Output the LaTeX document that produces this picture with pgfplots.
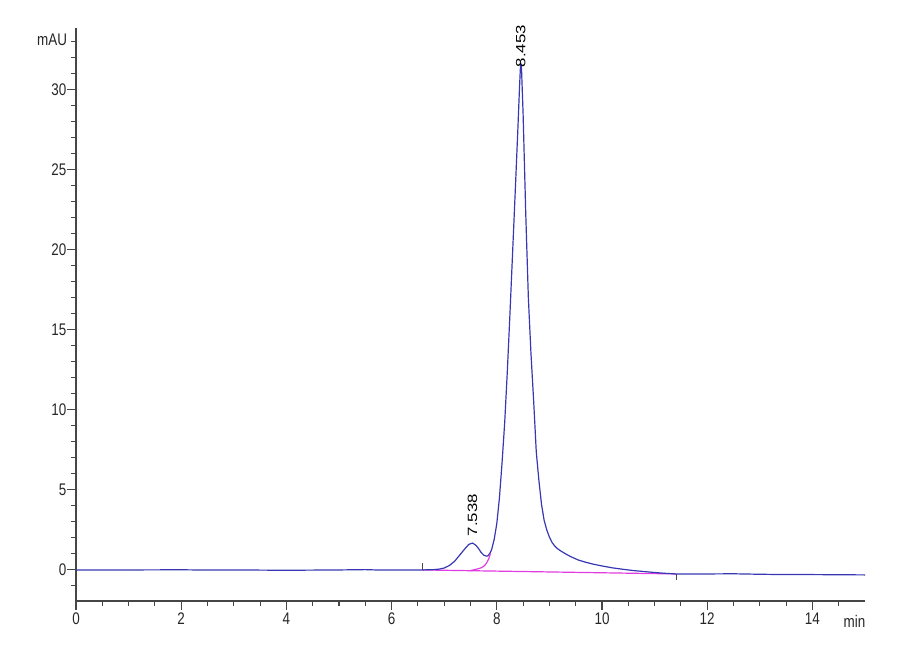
\documentclass[border=0pt]{standalone}
\usepackage{fontspec}
\setmainfont{Liberation Sans}
\newfontfamily\narrowfont{Liberation Sans}[FakeStretch=0.8]
\usepackage{pgfplots}
\pgfplotsset{compat=1.18}
\definecolor{trace}{RGB}{55,55,180}
\definecolor{fit}{RGB}{225,60,225}
\definecolor{axisgray}{RGB}{70,70,70}
\newcommand{\lblfont}{\narrowfont\fontsize{12.6}{15}\selectfont}
\newcommand{\peaklabel}[1]{\scalebox{1}[0.8]{\fontsize{12.6}{15}\selectfont #1}}

\begin{document}
\begin{tikzpicture}
\begin{axis}[
    scale only axis,
    width=591.75pt, height=429.75pt,
    at={(0,0)}, anchor=south west,
    xmin=0, xmax=15, ymin=-1.94, ymax=33.86,
    axis x line=bottom, axis y line=left,
    axis line style={axisgray, line width=0.8pt, -},
    xtick={0,2,...,14}, ytick={0,5,...,30},
    minor xtick={0.5,1,1.5,2.5,3,3.5,4.5,5,5.5,6.5,7,7.5,8.5,9,9.5,10.5,11,11.5,12.5,13,13.5,14.5},
    minor ytick={-1,1,2,3,4,6,7,8,9,11,12,13,14,16,17,18,19,21,22,23,24,26,27,28,29,31,32,33},
    tick align=outside,
    major tick length=6.5pt, minor tick length=3.5pt,
    tick style={axisgray, line width=0.8pt},
    /pgf/number format/assume math mode=true,
    tick label style={font=\lblfont, text=black!85},
    yticklabel style={inner xsep=0.5pt},
    xticklabel style={inner ysep=2pt},
    clip=false,
  ]
% integration baseline
\addplot [fit, line width=0.9pt] coordinates {(6.59,0) (11.41,-0.25)};
% detector trace
\addplot [trace, line width=0.9pt] coordinates {
(0,0) (1,0) (2,0.01) (2.3,0) (3,0) (4,-0.02) (5,0) (5.5,0.02) (5.7,0) (6,0) (6.59,0)
(6.8,0.02) (6.9,0.05) (7.0,0.12) (7.1,0.28) (7.2,0.55) (7.3,0.95) (7.4,1.35) (7.47,1.6)
(7.538,1.68) (7.6,1.55) (7.65,1.35) (7.7,1.1) (7.75,0.93) (7.8,0.86) (7.83,0.88)
(7.87,1.05) (7.9,1.25) (7.95,1.9) (8.0,2.9) (8.05,4.5) (8.1,6.7) (8.15,9.2) (8.2,12.4)
(8.25,16.0) (8.3,19.8) (8.35,23.6) (8.4,27.5) (8.43,30.0) (8.453,31.7) (8.47,31.3)
(8.5,28.5) (8.55,22.3) (8.6,17.0) (8.65,13.5) (8.7,10.6) (8.75,7.4) (8.8,5.6) (8.85,4.1)
(8.9,3.1) (8.95,2.5) (9.0,2.05) (9.05,1.72) (9.1,1.5) (9.15,1.34) (9.2,1.22) (9.3,1.02) (9.4,0.84)
(9.55,0.62) (9.7,0.47) (9.85,0.35) (10.0,0.25) (10.2,0.13) (10.4,0.04) (10.6,-0.04)
(10.8,-0.1) (11.0,-0.16) (11.2,-0.21) (11.41,-0.25) (12.0,-0.25) (12.5,-0.24)
(13.0,-0.27) (13.5,-0.29) (14.0,-0.29) (14.5,-0.3) (15.0,-0.31)
};
% fitted front of main peak
\addplot [fit, line width=0.9pt] coordinates {
(7.5,-0.05) (7.55,0.0) (7.6,0.04) (7.65,0.08) (7.7,0.13) (7.75,0.22) (7.8,0.4) (7.85,0.72) (7.88,1.05)
};
% integration markers
\addplot [axisgray, line width=0.8pt] coordinates {(6.59,0) (6.59,0.45)};
\addplot [axisgray, line width=0.8pt] coordinates {(11.41,-0.25) (11.41,-0.6)};
% peak labels
\node [rotate=90, anchor=west, inner sep=0pt] at (axis cs:7.538,2.1) {\peaklabel{7.538}};
\node [rotate=90, anchor=west, inner sep=0pt] at (axis cs:8.453,31.4) {\peaklabel{8.453}};
% axis units
\node [anchor=east, inner sep=0pt, font=\lblfont, text=black!85]
  at (axis cs:0,33.1) [xshift=-6.5pt] {mAU};
\node [anchor=north, inner sep=0pt, font=\lblfont, text=black!85]
  at (axis cs:14.8,-1.94) [yshift=-10.5pt] {min};
\end{axis}
\pgfresetboundingbox
\path (-57pt,-44.25pt) rectangle (618pt,450.75pt);
\end{tikzpicture}
\end{document}
